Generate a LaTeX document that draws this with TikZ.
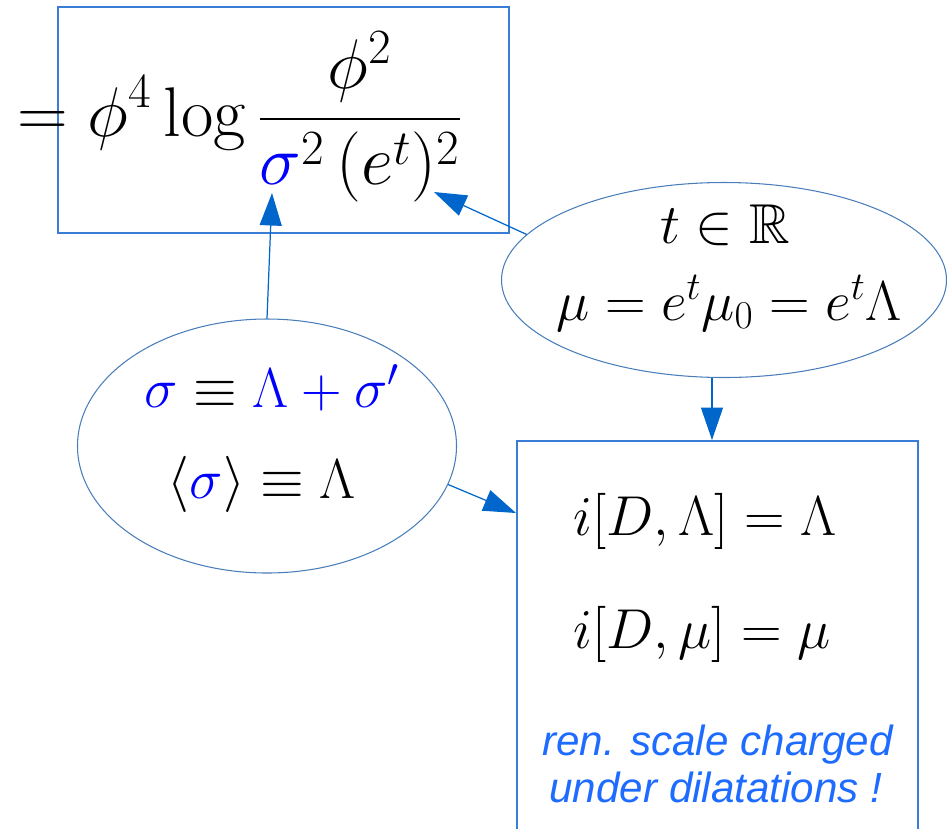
\RequirePackage{fix-cm}
\documentclass[tikz,border=0pt]{standalone}
\usepackage{xcolor}
\usepackage{amsmath}
\usepackage{amssymb}
\usepackage{fontspec}
\usepackage{tikz}
\usetikzlibrary{arrows.meta,shapes,positioning,calc}
\newfontfamily\notefont{Liberation Sans}
\definecolor{FrameBlue}{HTML}{3A7DD6}
\definecolor{RingBlue}{HTML}{4A7EBB}
\definecolor{ArrowBlue}{HTML}{0066CC}
\definecolor{FieldBlue}{HTML}{0000FF}
\definecolor{NoteBlue}{HTML}{1E6BFF}
\tikzset{
  framebox/.style={draw=FrameBlue, line width=0.85pt, inner sep=0pt},
  ringbox/.style={ellipse, draw=RingBlue, line width=0.6pt, inner sep=0pt},
  mathtext/.style={font=\fontsize{32}{38}\selectfont, inner sep=0pt},
  notetext/.style={font=\notefont\itshape\fontsize{24}{29}\selectfont, text=NoteBlue, inner sep=0pt},
  link/.style={draw=ArrowBlue, line width=0.7pt, -{Triangle[length=0.65cm,width=0.44cm]}}
}

\begin{document}
\begin{tikzpicture}
    \useasboundingbox (0,0) rectangle (18.94,-16.56);
    \clip (0,0) rectangle (18.94,-16.56);
    \node[framebox, minimum width=9.02cm, minimum height=4.52cm] (lossbox) at (5.67,-2.4) {};
    \node[font=\fontsize{40}{48}\selectfont, inner sep=0pt] (lossexpr) at (4.8,-2.34)
      {$\displaystyle =\phi^4\log\frac{\phi^2}{{\color{FieldBlue}\sigma}^2\,(e^t)^2}$};

    \node[ringbox, minimum width=8.9cm, minimum height=3.9cm] (scaleell) at (14.48,-5.6) {};
    \node[mathtext, anchor=base] (treal) at (14.5,-4.86) {$t\in\mathbb{R}$};
    \node[mathtext, anchor=base] (murun) at (14.58,-6.4) {$\mu=e^t\mu_0=e^t\Lambda$};

    \node[ringbox, minimum width=7.58cm, minimum height=5.08cm] (vevell) at (5.34,-8.92) {};
    \node[mathtext, anchor=base] (sigsplit) at (5.44,-8.14)
      {${\color{FieldBlue}\sigma}\equiv{\color{FieldBlue}\Lambda+\sigma'}$};
    \node[mathtext, anchor=base] (sigvev) at (5.24,-9.96)
      {$\langle{\color{FieldBlue}\sigma}\rangle\equiv\Lambda$};

    \node[framebox, anchor=north west, minimum width=8.02cm, minimum height=9cm] (dilbox) at (10.32,-8.8) {};
    \node[mathtext, anchor=base] (dlam) at (14.1,-10.7) {$i[D,\Lambda]=\Lambda$};
    \node[mathtext, anchor=base] (dmu) at (14.04,-12.96) {$i[D,\mu]=\mu$};
    \node[notetext, anchor=base] (noteA) at (14.35,-15.1) {ren. scale charged};
    \node[notetext, anchor=base] (noteB) at (14.32,-16.04) {under dilatations !};

    \coordinate (sigpt) at (5.44,-3.86);
    \coordinate (etpt) at (8.68,-3.84);
    \coordinate (dilin) at (10.32,-10.26);
    \draw[link] (vevell.north) -- (sigpt);
    \draw[link] (scaleell.167) -- (etpt);
    \draw[link] (scaleell.-97) -- (scaleell.-97 |- dilbox.north);
    \draw[link] (vevell.-12) -- (dilin);
\end{tikzpicture}
\end{document}
